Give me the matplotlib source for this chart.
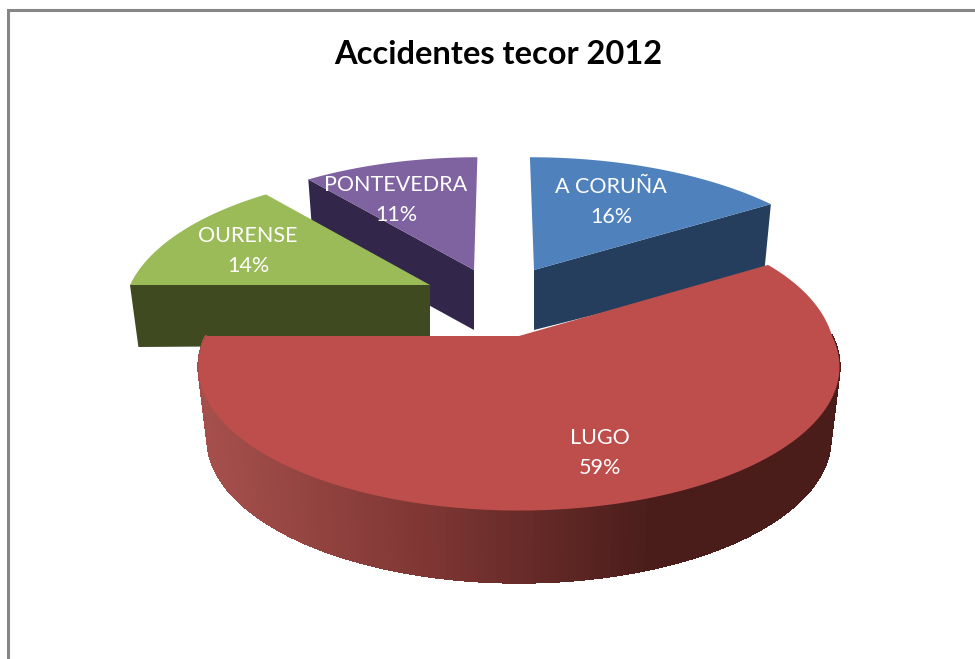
import numpy as np
from matplotlib import pyplot as plt
from matplotlib.colors import LinearSegmentedColormap

plt.rcParams['font.family'] = ['Lato', 'DejaVu Sans']

# data
provincias = ["A CORUÑA", "LUGO", "OURENSE", "PONTEVEDRA"]
valores = [16, 59, 14, 11]
titulo = "Accidentes tecor 2012"

# colours
top_colors = ["#4F81BD", "#BE4E4B", "#9BBB59", "#7F62A0"]
wall_colors = ["#263E5E", "#4A1D1B", "#3F4A20", "#32274A"]

# layout in image pixels: apex of each slice, radius, skew and stretch of the part behind the apex
apex_x = [534, 519, 430, 474]
apex_y = [270, 336, 285, 270]
radius = [316, 313, 300, 308]
skew = [-0.036, 0.17, 0, 0.03]
back = [1, 1.08, 1, 1]
label_x = [611, 600, 248, 396]
label_y = [187, 438, 236, 185]

# perspective of the pie plane
DEPTH = 137
PERSP = 0.215
WALL = 60
WALL_LUGO = 72
SHRINK = 0.972


def project(theta, i):
    # theta in radians clockwise from 12 o'clock
    px = np.sin(theta)
    py = np.cos(theta)
    s = 1 / (1 + PERSP * py)
    up = DEPTH * py * s
    up = np.where(up > 0, up * back[i], up)
    x = apex_x[i] + radius[i] * px * s + skew[i] * np.maximum(up, 0)
    y = apex_y[i] - up
    return x, y


def lowered(x, y, i, wall):
    return apex_x[i] + (x - apex_x[i]) * SHRINK, y + wall


fig = plt.figure(figsize=(9.75, 6.59), dpi=100)
ax = fig.add_axes([0, 0, 1, 1])
ax.set_xlim(0, 975)
ax.set_ylim(659, 0)
ax.axis("off")

# chart frame
ax.plot([8, 8, 975], [659, 10, 10], color="#868686", lw=2.2, solid_joinstyle="miter", zorder=1)

bounds = np.radians(np.cumsum([0] + valores) * 3.6)

# slices from back to front
gradient = LinearSegmentedColormap.from_list("lugo", ["#A54F4C", "#7E3633", "#4A1D1B"])
order = [3, 0, 2, 1]
z = 2
for i in order:
    t = np.linspace(bounds[i], bounds[i + 1], 200)
    xs, ys = project(t, i)
    ax0, ay0 = apex_x[i], apex_y[i]

    if provincias[i] == "LUGO":
        # curved wall, shaded strip by strip, only the part in front of the apex
        for j in range(len(t) - 1):
            if ys[j] < ay0 and ys[j + 1] < ay0:
                continue
            x0, y0 = xs[j], ys[j]
            x1, y1 = xs[j + 1], ys[j + 1]
            bx0, by0 = lowered(x0, y0, i, WALL_LUGO)
            bx1, by1 = lowered(x1, y1, i, WALL_LUGO)
            c = gradient(np.clip(((x0 + x1) / 2 - 205) / 445, 0, 1))
            ax.fill([x0, x1, bx1, bx0], [y0, y1, by1, by0], color=c, lw=1,
                    antialiased=False, zorder=z)
    elif provincias[i] == "A CORUÑA":
        # a bit longer at the outer corner so it runs in under LUGO
        ex, ey = xs[-1], ys[-1]
        bx, by = lowered(ex, ey, i, WALL + 8)
        ax.fill([ax0, ex, bx, ax0], [ay0, ey, by, ay0 + WALL], color=wall_colors[i], lw=0, zorder=z)
    else:
        sx, sy = xs[0], ys[0]
        bx, by = lowered(sx, sy, i, WALL + 2)
        ax.fill([ax0, sx, bx, ax0], [ay0, sy, by, ay0 + WALL], color=wall_colors[i], lw=0, zorder=z)

    ax.fill(np.r_[ax0, xs], np.r_[ay0, ys], color=top_colors[i], lw=0, zorder=z + 1)
    z += 2

# labels
for i in range(len(provincias)):
    ax.text(label_x[i], label_y[i], provincias[i], color="white", fontsize=15.5,
            ha="center", va="center", zorder=20)
    ax.text(label_x[i], label_y[i] + 30, "%d%%" % valores[i], color="white", fontsize=15.5,
            ha="center", va="center", zorder=20)

ax.text(498, 54, titulo, color="black", fontsize=23.5, fontweight="bold",
        ha="center", va="center", zorder=20)

fig.savefig("out.png", dpi=100)
